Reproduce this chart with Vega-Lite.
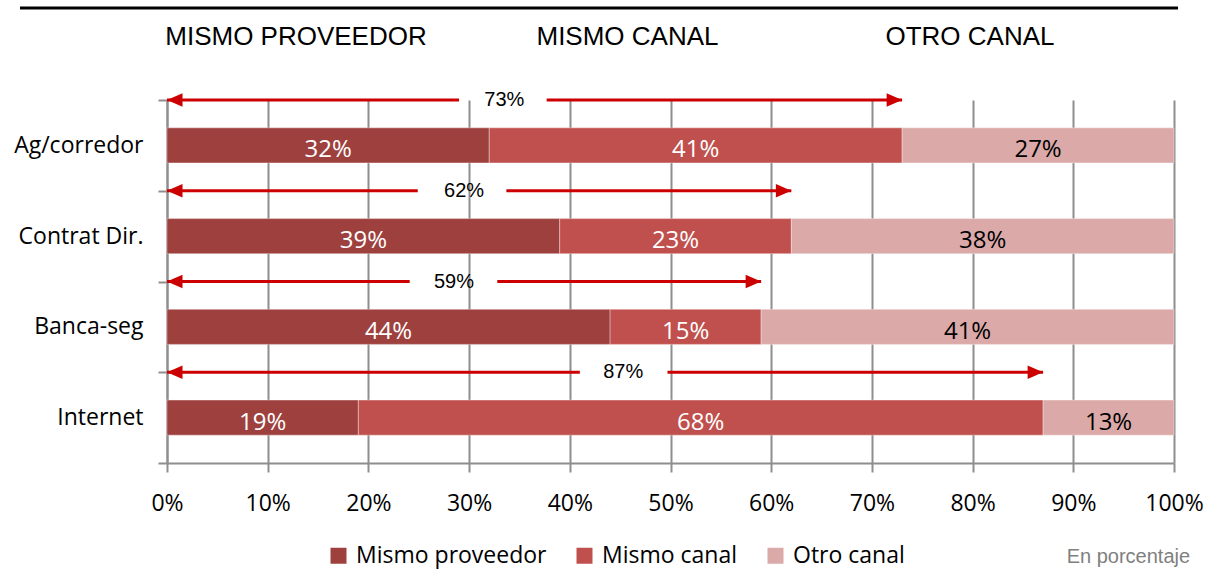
{
  "$schema": "https://vega.github.io/schema/vega-lite/v6.json",
  "width": 1007,
  "height": 363,
  "autosize": {"type": "none"},
  "padding": {"left": 167, "top": 100, "right": 42, "bottom": 106},
  "background": "white",
  "config": {"view": {"stroke": null}, "font": "Open Sans"},
  "datasets": {
    "bars": [
      {"canal": "Ag/corredor", "serie": "Mismo proveedor", "k": 1, "pct": 0.32},
      {"canal": "Ag/corredor", "serie": "Mismo canal", "k": 2, "pct": 0.41},
      {"canal": "Ag/corredor", "serie": "Otro canal", "k": 3, "pct": 0.27},
      {"canal": "Contrat Dir.", "serie": "Mismo proveedor", "k": 1, "pct": 0.39},
      {"canal": "Contrat Dir.", "serie": "Mismo canal", "k": 2, "pct": 0.23},
      {"canal": "Contrat Dir.", "serie": "Otro canal", "k": 3, "pct": 0.38},
      {"canal": "Banca-seg", "serie": "Mismo proveedor", "k": 1, "pct": 0.44},
      {"canal": "Banca-seg", "serie": "Mismo canal", "k": 2, "pct": 0.15},
      {"canal": "Banca-seg", "serie": "Otro canal", "k": 3, "pct": 0.41},
      {"canal": "Internet", "serie": "Mismo proveedor", "k": 1, "pct": 0.19},
      {"canal": "Internet", "serie": "Mismo canal", "k": 2, "pct": 0.68},
      {"canal": "Internet", "serie": "Otro canal", "k": 3, "pct": 0.13}
    ],
    "arrows": [
      {"canal": "Ag/corredor", "start": 0, "total": 0.73, "gapL": 0.290, "gapR": 0.377, "labelAt": 0.335},
      {"canal": "Contrat Dir.", "start": 0, "total": 0.62, "gapL": 0.249, "gapR": 0.337, "labelAt": 0.295},
      {"canal": "Banca-seg", "start": 0, "total": 0.59, "gapL": 0.241, "gapR": 0.328, "labelAt": 0.285},
      {"canal": "Internet", "start": 0, "total": 0.87, "gapL": 0.410, "gapR": 0.497, "labelAt": 0.453}
    ],
    "notes": [
      {"kind": "line", "a": -0.146, "b": 1.004, "v": 1.2534, "txt": ""},
      {"kind": "note", "a": 1.016, "b": 1.016, "v": -0.276, "txt": "En porcentaje"}
    ]
  },
  "layer": [
    {
      "layer": [
        {
          "data": {"name": "bars"},
          "mark": {"type": "bar", "height": {"band": 0.386}, "stroke": "white", "strokeOpacity": 0.35, "strokeWidth": 1},
          "encoding": {
            "y": {
              "field": "canal", "type": "nominal",
              "scale": {"domain": ["Ag/corredor", "Contrat Dir.", "Banca-seg", "Internet"], "paddingInner": 0, "paddingOuter": 0},
              "axis": {
                "title": null, "tickBand": "extent", "grid": false,
                "domainColor": "#8e8e8e", "domainWidth": 2,
                "tickColor": "#8e8e8e", "tickWidth": 2, "tickSize": 9,
                "labelFont": "Open Sans", "labelFontSize": 23, "labelColor": "black", "labelPadding": 15, "labelLimit": 0
              }
            },
            "x": {
              "field": "pct", "type": "quantitative", "stack": "zero",
              "scale": {"domain": [0, 1], "nice": false},
              "axis": {
                "title": null, "values": [0, 0.1, 0.2, 0.3, 0.4, 0.5, 0.6, 0.7, 0.8, 0.9, 1], "format": ".0%",
                "grid": true, "gridColor": "#8e8e8e", "gridWidth": 2,
                "domainColor": "#8e8e8e", "domainWidth": 2,
                "tickColor": "#8e8e8e", "tickWidth": 2, "tickSize": 9,
                "labelFont": "Open Sans", "labelFontSize": 23, "labelColor": "black", "labelPadding": 20,
                "labelFlush": false, "labelOverlap": false
              }
            },
            "color": {
              "field": "serie", "type": "nominal",
              "scale": {"domain": ["Mismo proveedor", "Mismo canal", "Otro canal"], "range": ["#9E413E", "#C0504D", "#DBA9A8"]},
              "legend": {
                "orient": "none", "legendX": 160, "legendY": 444, "direction": "horizontal", "title": null,
                "symbolType": "square", "symbolSize": 256, "symbolStrokeWidth": 0, "symbolOpacity": 1,
                "labelFont": "Open Sans", "labelFontSize": 23, "labelColor": "black", "labelOffset": 6, "labelLimit": 0,
                "columnPadding": 26, "padding": 0
              }
            },
            "order": {"field": "k", "type": "quantitative"}
          }
        },
        {
          "data": {"name": "bars"},
          "mark": {"type": "text", "font": "Open Sans", "fontSize": 24, "baseline": "middle", "dy": 5},
          "encoding": {
            "y": {"field": "canal", "type": "nominal"},
            "x": {"field": "pct", "type": "quantitative", "stack": "zero", "bandPosition": 0.5},
            "detail": {"field": "serie", "type": "nominal"},
            "order": {"field": "k", "type": "quantitative"},
            "text": {"field": "pct", "type": "quantitative", "format": ".0%"},
            "color": {"condition": {"test": "datum.serie === 'Otro canal'", "value": "black"}, "value": "white"}
          }
        },
        {
          "data": {"name": "arrows"},
          "mark": {"type": "rule", "color": "#CC0000", "strokeWidth": 3},
          "encoding": {
            "y": {"field": "canal", "type": "nominal", "bandPosition": 0},
            "x": {"field": "start", "type": "quantitative"},
            "x2": {"field": "gapL"}
          }
        },
        {
          "data": {"name": "arrows"},
          "mark": {"type": "rule", "color": "#CC0000", "strokeWidth": 3},
          "encoding": {
            "y": {"field": "canal", "type": "nominal", "bandPosition": 0},
            "x": {"field": "gapR", "type": "quantitative"},
            "x2": {"field": "total"}
          }
        },
        {
          "data": {"name": "arrows"},
          "mark": {"type": "point", "shape": "M0,0L2,-0.875L2,0.875Z", "filled": true, "size": 240, "color": "#CC0000", "opacity": 1, "strokeWidth": 0},
          "encoding": {
            "y": {"field": "canal", "type": "nominal", "bandPosition": 0},
            "x": {"field": "start", "type": "quantitative"}
          }
        },
        {
          "data": {"name": "arrows"},
          "mark": {"type": "point", "shape": "M0,0L-2,-0.875L-2,0.875Z", "filled": true, "size": 240, "color": "#CC0000", "opacity": 1, "strokeWidth": 0},
          "encoding": {
            "y": {"field": "canal", "type": "nominal", "bandPosition": 0},
            "x": {"field": "total", "type": "quantitative"}
          }
        },
        {
          "data": {"name": "arrows"},
          "mark": {"type": "text", "font": "Liberation Sans", "fontSize": 20, "baseline": "middle", "color": "black"},
          "encoding": {
            "y": {"field": "canal", "type": "nominal", "bandPosition": 0},
            "x": {"field": "labelAt", "type": "quantitative"},
            "text": {"field": "total", "type": "quantitative", "format": ".0%"}
          }
        }
      ]
    },
    {
      "data": {"name": "notes"},
      "layer": [
        {
          "transform": [{"filter": "datum.kind === 'line'"}],
          "mark": {"type": "rule", "color": "black", "strokeWidth": 3},
          "encoding": {
            "x": {
              "field": "a", "type": "quantitative",
              "scale": {"domain": [0, 1], "nice": false, "zero": false},
              "axis": {
                "orient": "top", "title": null, "values": [0.1276, 0.4568, 0.7969],
                "labelExpr": "datum.value < 0.2 ? 'MISMO PROVEEDOR' : datum.value < 0.6 ? 'MISMO CANAL' : 'OTRO CANAL'",
                "domain": false, "ticks": false, "tickSize": 0, "grid": false,
                "labelFont": "Liberation Sans", "labelFontSize": 26, "labelColor": "black", "labelLimit": 0,
                "labelBaseline": "alphabetic", "labelPadding": 56, "labelFlush": false, "labelOverlap": false
              }
            },
            "x2": {"field": "b"},
            "y": {"field": "v", "type": "quantitative", "scale": {"domain": [0, 1], "nice": false, "zero": false}, "axis": null}
          }
        },
        {
          "transform": [{"filter": "datum.kind === 'note'"}],
          "mark": {"type": "text", "align": "right", "baseline": "alphabetic", "font": "Liberation Sans", "fontSize": 20, "color": "#7f7f7f"},
          "encoding": {
            "x": {"field": "a", "type": "quantitative"},
            "y": {"field": "v", "type": "quantitative"},
            "text": {"field": "txt", "type": "nominal"}
          }
        }
      ]
    }
  ],
  "resolve": {"scale": {"x": "independent", "y": "independent"}}
}
